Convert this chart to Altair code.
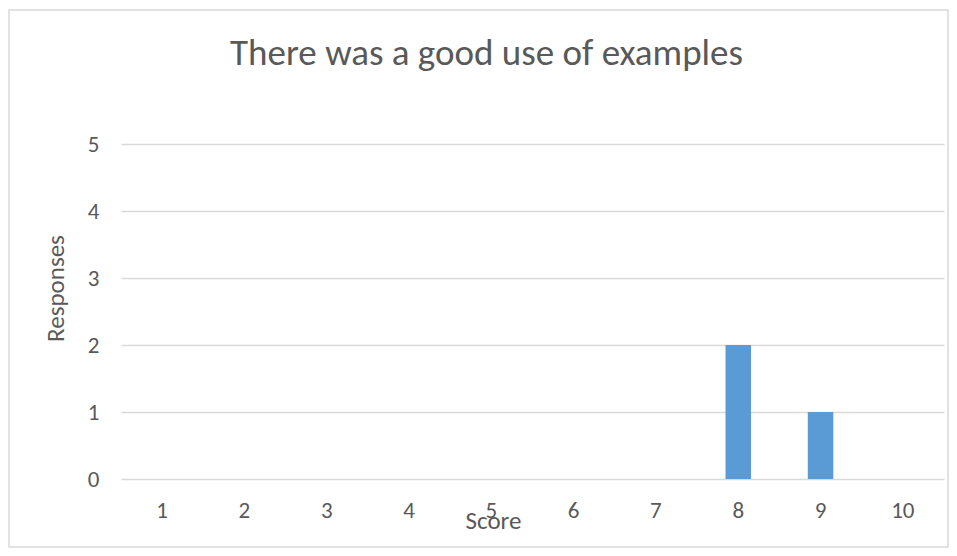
import altair as alt
import pandas as pd

scores = ["1", "2", "3", "4", "5", "6", "7", "8", "9", "10"]
responses = [0, 0, 0, 0, 0, 0, 0, 2, 1, 0]
y_ticks = [0, 1, 2, 3, 4, 5]
title_text = "There was a good use of examples"

df = pd.DataFrame({"Score": scores, "Responses": responses})

FONT = "Carlito, Lato, sans-serif"
TXT = "#595959"
GRID = "#d9d9d9"

W, H = 823, 335

bars = alt.Chart(df).mark_bar(color="#5b9bd5").encode(
    x=alt.X(
        "Score:N",
        sort=scores,
        scale=alt.Scale(paddingInner=0.69, paddingOuter=0.345),
        axis=alt.Axis(
            title="Score",
            labelAngle=0,
            labelPadding=20,
            labelFontSize=23,
            labelColor=TXT,
            labelFont=FONT,
            ticks=False,
            domain=False,
            titleFontSize=25,
            titleFontWeight="normal",
            titleColor=TXT,
            titleFont=FONT,
            titleX=372,
            titleY=41,
            titleAlign="center",
            titleBaseline="middle",
        ),
    ),
    y=alt.Y(
        "Responses:Q",
        scale=alt.Scale(domain=[0, 5], nice=False),
        axis=alt.Axis(
            title="Responses",
            values=y_ticks,
            labelPadding=22,
            labelFontSize=23,
            labelColor=TXT,
            labelFont=FONT,
            ticks=False,
            domain=False,
            grid=True,
            gridColor=GRID,
            gridWidth=1.3,
            titleFontSize=25,
            titleFontWeight="normal",
            titleColor=TXT,
            titleFont=FONT,
            titleX=-66,
            titleY=144,
            titleAlign="center",
            titleBaseline="middle",
        ),
    ),
)

border = alt.Chart(pd.DataFrame({"a": [0]})).mark_rect(
    fill=None, stroke=GRID, strokeWidth=1.5
).encode(
    x=alt.value(-112), x2=alt.value(827), y=alt.value(-134), y2=alt.value(403)
)

chart = alt.layer(border, bars).properties(
    width=W,
    height=H,
    padding={"left": 113, "top": 136, "right": 5, "bottom": 69},
    autosize=alt.AutoSizeParams(type="none"),
    title=alt.TitleParams(
        title_text,
        fontSize=37,
        font=FONT,
        fontWeight="normal",
        color=TXT,
        anchor="middle",
        frame="group",
        dx=-46,
        offset=-64,
    ),
).configure_view(stroke=None)

chart.save("out.html", embed_options={"renderer": "svg", "actions": False})
